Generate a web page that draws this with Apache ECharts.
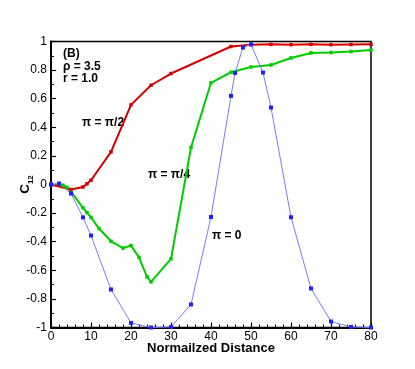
<!DOCTYPE html>
<html><head><meta charset="utf-8">
<script src="https://cdn.jsdelivr.net/npm/echarts@6/dist/echarts.min.js"></script>
<style>html,body{margin:0;padding:0;background:#fff}#c{width:415px;height:369px}</style>
</head><body><div id="c"></div>
<script>
// Data
var redX   = [0, 5, 8, 9, 10, 15, 20, 25, 30, 45, 50, 55, 60, 65, 70, 75, 80];
var redY   = [0, -0.035, -0.017, 0.005, 0.03, 0.228, 0.557, 0.694, 0.776, 0.965, 0.978, 0.98, 0.978, 0.98, 0.978, 0.979, 0.98];
var greenX = [0, 3, 4, 5, 8, 9, 10, 12, 15, 18, 20, 22, 24, 25, 30, 35, 40, 45, 50, 55, 60, 65, 70, 75, 80];
var greenY = [0, -0.005, -0.02, -0.05, -0.163, -0.196, -0.23, -0.308, -0.397, -0.445, -0.427, -0.51, -0.646, -0.681, -0.52, 0.259, 0.711, 0.785, 0.822, 0.836, 0.885, 0.92, 0.923, 0.93, 0.94];
var blueX  = [0, 2, 5, 8, 10, 15, 20, 25, 30, 35, 40, 45, 46, 48, 50, 53, 55, 60, 65, 70, 75, 80];
var blueY  = [0, 0.007, -0.063, -0.23, -0.357, -0.734, -0.968, -1.0, -0.996, -0.839, -0.227, 0.62, 0.78, 0.958, 0.98, 0.783, 0.538, -0.229, -0.727, -0.958, -0.996, -1.0];
var xTicks = [0, 10, 20, 30, 40, 50, 60, 70, 80];
var yTicks = [-1, -0.8, -0.6, -0.4, -0.2, 0, 0.2, 0.4, 0.6, 0.8, 1];

function zip(a, b) { return a.map(function (v, i) { return [v, b[i]]; }); }

var FONT = 'Liberation Sans, Arial, Helvetica, sans-serif';
var chart = echarts.init(document.getElementById('c'), null, { renderer: 'canvas' });
chart.setOption({
  animation: false,
  backgroundColor: '#fff',
  grid: { left: 51, right: 44, top: 41.5, bottom: 41.5, containLabel: false, outerBoundsMode: 'none',
          show: true, borderColor: '#000', borderWidth: 1.5, backgroundColor: 'transparent' },
  xAxis: {
    type: 'value', min: 0, max: 80, interval: 10,
    name: 'Normailzed Distance', nameLocation: 'middle', nameGap: 14, nameMoveOverlap: false,
    nameTextStyle: { fontFamily: FONT, fontWeight: 'bold', fontSize: 13, color: '#000' },
    axisLine: { show: true, onZero: false, lineStyle: { color: '#000', width: 2 } },
    axisTick: { show: true, inside: true, length: 5, lineStyle: { color: '#000', width: 1.2 } },
    minorTick: { show: true, splitNumber: 5, length: 3, lineStyle: { color: '#000', width: 1 } },
    axisLabel: { fontFamily: FONT, fontSize: 12, color: '#000', margin: 3,
      formatter: function (v) { return xTicks.indexOf(v) >= 0 ? String(v) : ''; } },
    splitLine: { show: false }
  },
  yAxis: {
    type: 'value', min: -1, max: 1, interval: 0.2,
    name: '{a|C}{b|12}', nameLocation: 'middle', nameGap: 19, nameRotate: 90, nameMoveOverlap: false,
    nameTextStyle: {
      rich: {
        a: { fontFamily: FONT, fontWeight: 'bold', fontSize: 13.5, color: '#000' },
        b: { fontFamily: FONT, fontWeight: 'bold', fontSize: 8, color: '#000', verticalAlign: 'bottom', padding: [0, 0, -3, 0] }
      }
    },
    axisLine: { show: true, onZero: false, lineStyle: { color: '#000', width: 2 } },
    axisTick: { show: true, inside: true, length: 5, lineStyle: { color: '#000', width: 1.2 } },
    minorTick: { show: true, splitNumber: 2, length: 3, lineStyle: { color: '#000', width: 1 } },
    axisLabel: { fontFamily: FONT, fontSize: 12, color: '#000', margin: 4,
      formatter: function (v) { var r = Math.round(v * 10) / 10; return yTicks.indexOf(r) >= 0 ? String(r) : ''; } },
    splitLine: { show: false }
  },
  series: [
    { type: 'line', data: zip(greenX, greenY), clip: false, symbol: 'rect', symbolSize: 3.5,
      lineStyle: { color: '#00cc00', width: 2 }, itemStyle: { color: '#00cc00' } },
    { type: 'line', data: zip(redX, redY), clip: false, symbol: 'rect', symbolSize: 3.5,
      lineStyle: { color: '#d40000', width: 2 }, itemStyle: { color: '#d40000' } },
    { type: 'line', data: zip(blueX, blueY), clip: false, symbol: 'rect', symbolSize: 4,
      lineStyle: { color: '#7a7aff', width: 1 }, itemStyle: { color: '#1f1fff' } }
  ],
  graphic: [
    { type: 'text', left: 63, top: 48, style: { text: '(B)', font: 'bold 12px ' + FONT, fill: '#000' } },
    { type: 'text', left: 63, top: 61, style: { text: 'ρ = 3.5', font: 'bold 12px ' + FONT, fill: '#000' } },
    { type: 'text', left: 63, top: 73, style: { text: 'r = 1.0', font: 'bold 12px ' + FONT, fill: '#000' } },
    { type: 'text', left: 82, top: 117, style: { text: 'π = π/2', font: 'bold 12px ' + FONT, fill: '#000' } },
    { type: 'text', left: 148, top: 169, style: { text: 'π = π/4', font: 'bold 12px ' + FONT, fill: '#000' } },
    { type: 'text', left: 212, top: 230, style: { text: 'π = 0', font: 'bold 12px ' + FONT, fill: '#000' } }
  ]
});
</script></body></html>
